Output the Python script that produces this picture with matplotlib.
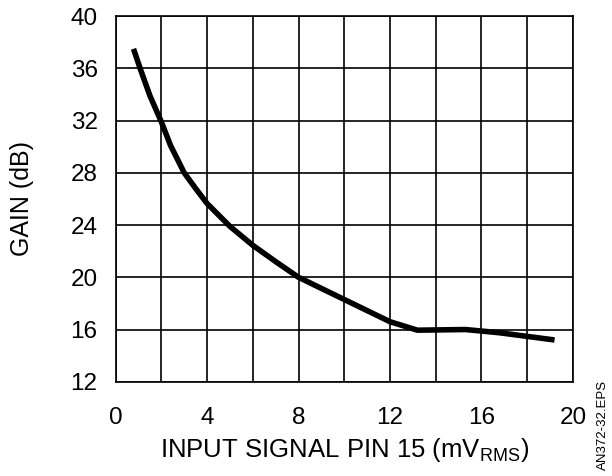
import matplotlib
matplotlib.use('Agg')
import matplotlib.pyplot as plt

plt.rcParams['font.family'] = ['Liberation Sans', 'DejaVu Sans']
plt.rcParams['mathtext.fontset'] = 'custom'
plt.rcParams['mathtext.rm'] = 'Liberation Sans'

# gain curve
signal_mv = [0.78, 1.07, 1.5, 2.0, 2.4, 3.0, 3.5, 4.0, 5.0, 6.0, 7.0, 8.0, 10.0, 12.0, 13.2, 15.3, 16.8, 19.2]
gain_db = [37.5, 36.0, 33.9, 31.9, 30.1, 28.0, 26.8, 25.65, 23.9, 22.45, 21.2, 20.0, 18.3, 16.6, 15.95, 16.0, 15.75, 15.2]

x_ticks = [0, 4, 8, 12, 16, 20]
y_ticks = [12, 16, 20, 24, 28, 32, 36, 40]

fig = plt.figure(figsize=(6.12, 4.76), dpi=100)
ax = fig.add_axes([0.189, 0.198, 0.747, 0.768])

ax.plot(signal_mv, gain_db, color='black', linewidth=4, solid_capstyle='butt', zorder=3)

ax.set_xlim(0, 20)
ax.set_ylim(12, 40)
ax.set_xticks(x_ticks)
ax.set_yticks(y_ticks)
ax.set_xticks(range(0, 21, 2), minor=True)

# grid every 2 mV and every 4 dB
ax.grid(True, which='both', axis='x', color='black', linewidth=1.2)
ax.grid(True, which='major', axis='y', color='black', linewidth=1.2)
for sp in ax.spines.values():
    sp.set_linewidth(1.2)

ax.tick_params(axis='both', which='both', length=0, labelsize=17.5)
ax.tick_params(axis='x', pad=18)
ax.tick_params(axis='y', pad=13)

ax.set_xlabel('INPUT SIGNAL PIN 15 (mV$_\\mathregular{RMS}$)', fontsize=18.5, labelpad=5)
ax.set_ylabel('GAIN (dB)', fontsize=18)
ax.yaxis.set_label_coords(-0.178, 0.5)

fig.text(0.985, 0.107, 'AN372-32.EPS', rotation=90, fontsize=9.5, ha='center', va='center')

fig.savefig('out.png', dpi=100)
